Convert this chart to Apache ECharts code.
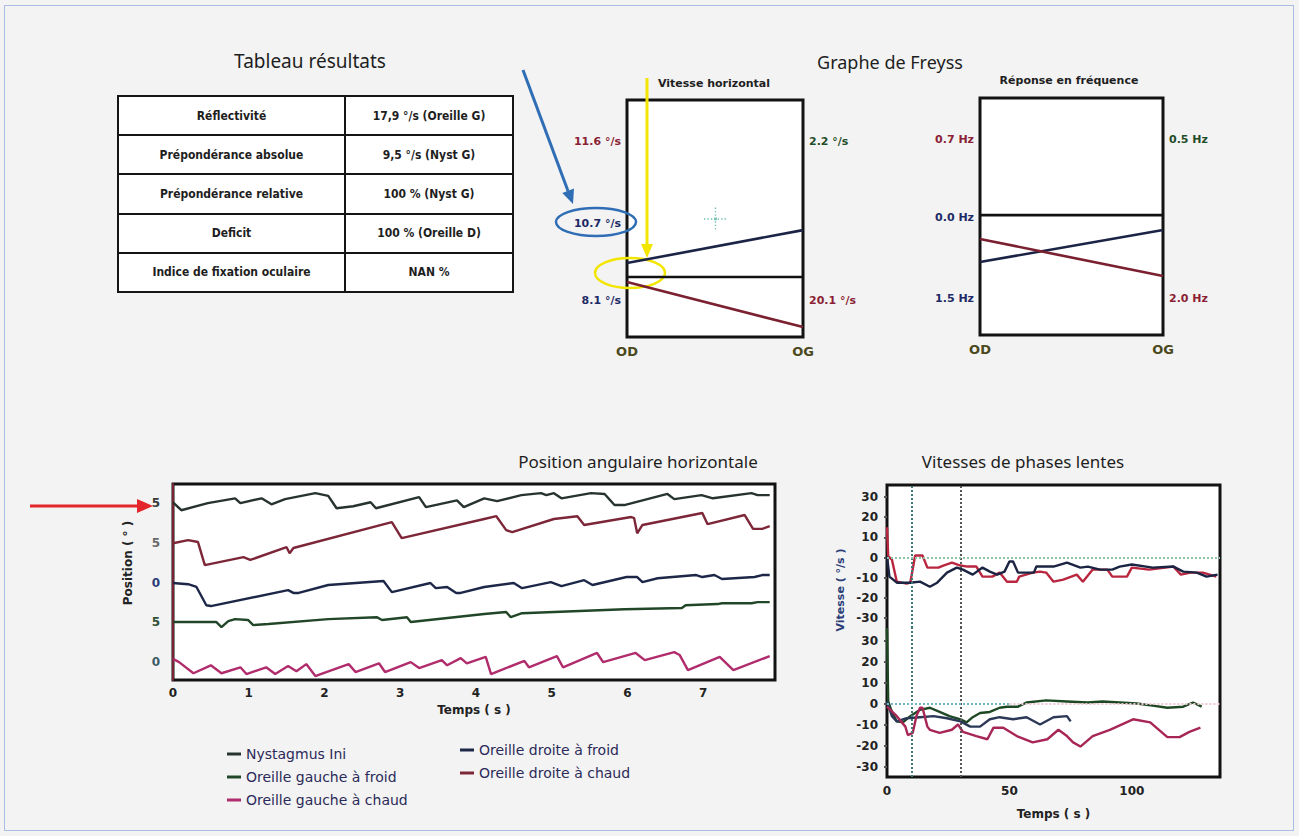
<!DOCTYPE html>
<html>
<head>
<meta charset="utf-8">
<title>Résultats vidéonystagmographie</title>
<script src="https://cdn.jsdelivr.net/npm/echarts@6/dist/echarts.min.js"></script>
<style>
  html, body { margin: 0; padding: 0; background: #f3f3f3; }
  #page { position: relative; width: 1299px; height: 836px; overflow: hidden; }
  #chart { position: absolute; left: 0; top: 0; width: 1299px; height: 836px; }
  #frame { position: absolute; left: 4px; top: 5px; width: 1290px; height: 826px; box-sizing: border-box;
           border: 1px solid #a9bde6; pointer-events: none; }
  #tableTitle { position: absolute; left: 190px; top: 48px; width: 240px; text-align: center;
                font: 19px 'Noto Sans', 'Open Sans', sans-serif; color: #1e1e1e; }
  #results { position: absolute; left: 117px; top: 95px; width: 397px; height: 198px; border-collapse: collapse;
             background: #fff; font: bold 12px 'DejaVu Sans Condensed', 'DejaVu Sans', sans-serif; color: #1e1e1e; }
  #results td { border: 2px solid #151515; text-align: center; padding: 0; }
  #results td:first-child { width: 225px; }
</style>
</head>
<body>
<div id="page">
  <div id="chart"></div>
  <div id="tableTitle">Tableau résultats</div>
  <table id="results"></table>
  <div id="frame"></div>
</div>
<script>
// ---- Tableau résultats ----
const resultLabels = ['Réflectivité', 'Prépondérance absolue', 'Prépondérance relative', 'Deficit', 'Indice de fixation oculaire'];
const resultValues = ['17,9 °/s (Oreille G)', '9,5 °/s (Nyst G)', '100 % (Nyst G)', '100 % (Oreille D)', 'NAN %'];

// ---- Graphe de Freyss : vitesse horizontale (échelle normalisée 0..1) ----
const freyssSides = ['OD', 'OG'];
const speedLevelsLeft = [0.827, 0.481, 0.156];
const speedLabelsLeft = ['11.6 °/s', '10.7 °/s', '8.1 °/s'];
const speedLevelsRight = [0.827, 0.156];
const speedLabelsRight = ['2.2 °/s', '20.1 °/s'];
const speedRef = [0.253, 0.253];
const speedFroid = [0.312, 0.451];
const speedChaud = [0.232, 0.042];
const speedTarget = [0.5, 0.5];

// ---- Graphe de Freyss : réponse en fréquence ----
const freqLevelsLeft = [0.823, 0.494, 0.156];
const freqLabelsLeft = ['0.7 Hz', '0.0 Hz', '1.5 Hz'];
const freqLevelsRight = [0.823, 0.156];
const freqLabelsRight = ['0.5 Hz', '2.0 Hz'];
const freqRef = [0.506, 0.506];
const freqFroid = [0.308, 0.443];
const freqChaud = [0.405, 0.249];

// ---- Position angulaire horizontale : [temps (s), position] ----
const posTicks = [0, 10, 20, 30, 40];
const posTickLabels = ['0', '5', '0', '5', '5'];
const posNystagmus = [[0,40.2],[0.11,38.2],[0.46,40.0],[0.82,41.2],[0.89,40.0],[1.17,41.2],[1.30,39.7],[1.48,41.0],[1.88,42.5],[2.05,41.8],[2.16,38.7],[2.38,39.2],[2.61,40.2],[2.68,38.7],[3.25,41.5],[3.34,39.0],[3.75,40.7],[3.84,39.0],[4.11,41.2],[4.28,40.5],[4.60,42.0],[4.86,42.5],[4.93,42.0],[5.03,42.5],[5.13,41.2],[5.52,42.5],[5.70,42.3],[5.83,39.5],[5.96,39.5],[6.53,42.3],[6.62,41.0],[6.98,42.0],[7.13,41.2],[7.64,42.5],[7.72,42.0],[7.88,42.0]];
const posDroiteChaud = [[0,29.9],[0.20,30.7],[0.33,30.2],[0.42,24.4],[0.93,26.4],[1.02,25.7],[1.50,28.9],[1.54,27.4],[1.59,28.7],[2.89,35.2],[3.02,31.2],[4.11,36.0],[4.27,36.7],[4.40,33.2],[4.48,32.7],[5.03,36.0],[5.34,36.7],[5.43,34.5],[6.05,36.5],[6.09,36.2],[6.13,32.4],[6.20,34.5],[6.99,37.5],[7.06,34.7],[7.55,37.0],[7.66,33.5],[7.78,33.5],[7.88,34.2]];
const posDroiteFroid = [[0,19.9],[0.20,19.6],[0.31,18.9],[0.44,14.3],[0.50,14.1],[1.52,18.1],[1.59,17.4],[1.66,17.4],[2.05,19.4],[2.78,20.4],[2.89,17.6],[3.40,19.9],[3.47,18.6],[3.62,18.9],[3.74,17.4],[3.80,17.4],[4.11,18.9],[4.50,19.9],[4.61,18.6],[4.99,20.1],[5.13,19.1],[5.43,20.6],[5.54,19.4],[5.99,21.4],[6.13,21.4],[6.20,20.1],[6.40,21.1],[6.91,21.9],[6.99,21.4],[7.15,21.9],[7.25,20.9],[7.68,21.4],[7.78,21.9],[7.88,21.9]];
const posGaucheFroid = [[0,10.1],[0.57,10.1],[0.64,8.8],[0.73,10.3],[0.82,10.8],[0.99,10.6],[1.06,9.3],[1.26,9.6],[2.05,10.8],[2.69,11.3],[2.76,10.6],[3.09,11.3],[3.14,10.1],[4.11,12.1],[4.40,12.6],[4.46,11.3],[4.61,12.3],[5.96,13.3],[6.72,13.6],[6.77,14.3],[7.19,14.6],[7.25,14.8],[7.64,14.8],[7.72,15.1],[7.88,15.1]];
const posGaucheChaud = [[0,0.8],[0.08,0],[0.27,-2.8],[0.50,-0.8],[0.64,-2.8],[0.89,-1.3],[0.97,-3.0],[1.23,-1.3],[1.35,-3.0],[1.52,-1.0],[1.63,-2.3],[1.76,-0.5],[1.88,-3.5],[1.95,-3.0],[2.32,-0.5],[2.41,-2.5],[2.72,-0.3],[2.80,-2.5],[3.14,0],[3.25,-1.5],[3.55,0.5],[3.62,-0.8],[3.80,1.0],[3.88,-0.3],[4.13,1.3],[4.20,-3.0],[4.64,0.3],[4.70,-1.3],[5.07,1.5],[5.15,-1.3],[5.60,2.3],[5.68,0],[6.11,2.3],[6.23,0.5],[6.62,2.5],[6.69,1.8],[6.80,-2.0],[7.22,1.3],[7.40,-2.0],[7.88,1.5]];

// ---- Vitesses de phases lentes : [temps (s), vitesse (°/s)] ----
const velTicks = [-30, -20, -10, 0, 10, 20, 30];
const velMarks = [10, 30];
const velDroiteChaud = [[0,15],[0.5,0.5],[2,-1],[4,-12],[8,-13],[9.5,-12.5],[11.5,1],[14.5,1],[16.5,-5],[21,-5],[23,-4],[26.5,-2.5],[30,-4],[33,-4.5],[36.5,-4.5],[39,-9.5],[43,-9.5],[46,-7.5],[49,-12],[53,-12],[54,-9.5],[59.5,-7.5],[62.5,-7],[65,-7.5],[68,-12],[72,-11],[77.5,-8.5],[80,-12],[84,-6],[90,-6],[92,-9.5],[98,-9.5],[100,-5],[107,-6],[117,-4.5],[120,-8.5],[124,-7.5],[129,-7.5],[134.5,-9.5]];
const velDroiteFroid = [[0,0.5],[1,-9.5],[4,-12.5],[9.5,-12.5],[13.5,-12],[17.5,-14.5],[20.5,-12.5],[24.5,-7.5],[28.5,-5],[31,-6],[35,-8.5],[39,-5],[42,-7],[45,-8.5],[48,-7],[50,-2],[51.5,-2],[53.5,-7.5],[57,-7.5],[60,-7.5],[61,-4.5],[68,-4.5],[73.5,-2.5],[79,-5],[82,-4.5],[87,-6],[92,-6],[95,-4.5],[100,-3.5],[108.5,-5],[117,-4.5],[121,-7],[126.5,-7.5],[130.5,-9.5],[135,-8.5]];
const velGaucheFroid = [[0,36],[0.5,1],[2,-4],[4,-8.5],[6.5,-9],[9.5,-6],[13.5,-3],[17.5,-2],[21.5,-4],[25.5,-6],[30,-7.5],[32.5,-9],[35,-6.5],[38,-4.5],[42,-4],[46,-2],[49,-1.5],[53.5,-1.5],[57,0.5],[65,1.5],[73.5,1],[82,0.5],[88,1],[95,0.5],[102,0],[108.5,-1],[114.5,-2],[121,-1.5],[125,0.5],[128.5,-1.5]];
const velNystagmus = [[0,1],[2,-6],[4,-8.5],[8,-7],[13.5,-6.5],[19,-6],[24.5,-7],[30,-8.5],[34,-11],[38,-11],[42,-7.5],[46,-6.5],[51.5,-7.5],[57,-6.5],[62.5,-10],[68,-6.5],[73.5,-6],[75,-8.5]];
const velGaucheChaud = [[0,-1.5],[4,-6],[7.5,-11],[8.5,-15],[10.5,-14],[12,-6],[13.5,-2],[14.5,-2],[16.5,-11],[17.5,-12.5],[21.5,-14],[26.5,-12.5],[29,-10],[31,-13.5],[36.5,-15.5],[41,-17],[43.5,-11.5],[47.5,-11.5],[53,-15.5],[59.5,-18.5],[65.5,-17],[70,-12.5],[73.5,-15.5],[76,-18.5],[79,-20.5],[84,-15.5],[91,-12.5],[100.5,-7.5],[107.5,-9],[114.5,-16],[119.5,-16],[123.5,-13.5],[128,-11.5]];

// ---- table ----
const tbl = document.getElementById('results');
resultLabels.forEach((lab, i) => {
  const tr = document.createElement('tr');
  const a = document.createElement('td'); a.textContent = lab;
  const b = document.createElement('td'); b.textContent = resultValues[i];
  tr.appendChild(a); tr.appendChild(b); tbl.appendChild(tr);
});

// ---- styles ----
const FONT = "'DejaVu Sans', sans-serif";
const TITLE_FONT = "'Noto Sans', 'Open Sans', sans-serif";
const C = {
  nyst: '#27332f', droiteChaud: '#7c2638', droiteFroid: '#1d2748', gaucheFroid: '#224628', gaucheChaud: '#b02c6c',
  velRed: '#b8263f', velNavy: '#1b2442', velGreen: '#1e4824', velSlate: '#2b3957', velPink: '#a82656',
  red: '#8a1f35', blue: '#1d2a66', green: '#1f4d2a', black: '#121212', olive: '#4a481c'
};
const speedLeftColors = [C.red, C.blue, C.blue];
const speedRightColors = [C.green, C.red];
const freqLeftColors = [C.red, C.blue, C.blue];
const freqRightColors = [C.green, C.red];
const posTickColors = ['#3b5a66', '#2f5236', '#2a3d78', '#6a6a6a', '#3a3a3a'];

// dotted cross used as the target symbol
function dottedCross() {
  let p = '';
  for (let i = 0; i <= 20; i += 3) {
    p += 'M' + i + ',9.4h1.2v1.2h-1.2z';
    p += 'M9.4,' + i + 'h1.2v1.2h-1.2z';
  }
  p += 'M8.8,8.8h2.4v2.4h-2.4z';
  return 'path://' + p;
}

function levelIndex(levels, v) {
  return levels.findIndex(l => Math.abs(l - Number(v)) < 1e-6);
}
function levelAxis(gridIndex, position, levels, labels, colors) {
  return {
    gridIndex, type: 'value', min: 0, max: 1, position,
    axisLine: { show: false }, axisTick: { show: false }, splitLine: { show: false },
    axisLabel: {
      customValues: levels, margin: 6, fontSize: 11, fontWeight: 'bold', fontFamily: FONT,
      formatter: v => labels[levelIndex(levels, v)] || '',
      color: v => colors[levelIndex(levels, v)] || '#222'
    }
  };
}
function sideAxis(gridIndex) {
  return {
    gridIndex, type: 'value', min: 0, max: 1,
    axisLine: { show: false }, axisTick: { show: false }, splitLine: { show: false },
    axisLabel: { customValues: [0, 1], margin: 8, fontSize: 13, fontWeight: 'bold', fontFamily: FONT, color: C.olive,
                 formatter: v => freyssSides[Math.round(v)] }
  };
}
function segment(name, ends, color, xi, yi) {
  return { type: 'line', name, xAxisIndex: xi, yAxisIndex: yi, data: [[0, ends[0]], [1, ends[1]]],
           symbol: 'none', silent: true, lineStyle: { color, width: 2.6 }, itemStyle: { color } };
}
function trace(name, data, color, xi, yi, extra) {
  return Object.assign({ type: 'line', name, xAxisIndex: xi, yAxisIndex: yi, data, symbol: 'none', silent: true,
           lineStyle: { color, width: 2.4 }, itemStyle: { color } }, extra || {});
}
const dotted = (color) => ({ type: 'dotted', color, width: 2 });

const option = {
  animation: false,
  backgroundColor: 'transparent',
  grid: [
    { left: 627, top: 100, width: 176, height: 237, show: true, borderColor: C.black, borderWidth: 3, backgroundColor: '#fff' },
    { left: 980, top: 98, width: 183, height: 237, show: true, borderColor: C.black, borderWidth: 3, backgroundColor: '#fff' },
    { left: 173, top: 484, width: 602, height: 196, show: true, borderColor: C.black, borderWidth: 3, backgroundColor: '#fff' },
    { left: 887, top: 485, width: 333, height: 143 },
    { left: 887, top: 628, width: 333, height: 149 },
    { left: 887, top: 485, width: 333, height: 292, show: true, borderColor: C.black, borderWidth: 3, backgroundColor: '#fff' }
  ],
  xAxis: [
    sideAxis(0),
    sideAxis(1),
    { gridIndex: 2, type: 'value', min: 0, max: 7.95, interval: 1,
      axisLine: { show: false }, axisTick: { show: false }, splitLine: { show: false },
      axisLabel: { margin: 7, fontSize: 12, fontWeight: 'bold', fontFamily: FONT, color: '#222', showMaxLabel: false },
      name: 'Temps ( s )', nameLocation: 'middle', nameGap: 24,
      nameTextStyle: { fontSize: 12, fontWeight: 'bold', fontFamily: FONT, color: '#222' } },
    { gridIndex: 3, type: 'value', min: 0, max: 136, show: false },
    { gridIndex: 4, type: 'value', min: 0, max: 136, interval: 50,
      axisLine: { show: false }, axisTick: { show: false }, splitLine: { show: false },
      axisLabel: { margin: 8, fontSize: 12, fontWeight: 'bold', fontFamily: FONT, color: '#222', showMaxLabel: false },
      name: 'Temps ( s )', nameLocation: 'middle', nameGap: 31,
      nameTextStyle: { fontSize: 12, fontWeight: 'bold', fontFamily: FONT, color: '#222' } },
    { gridIndex: 5, type: 'value', show: false }
  ],
  yAxis: [
    levelAxis(0, 'left', speedLevelsLeft, speedLabelsLeft, speedLeftColors),
    levelAxis(0, 'right', speedLevelsRight, speedLabelsRight, speedRightColors),
    levelAxis(1, 'left', freqLevelsLeft, freqLabelsLeft, freqLeftColors),
    levelAxis(1, 'right', freqLevelsRight, freqLabelsRight, freqRightColors),
    { gridIndex: 2, type: 'value', min: -4.5, max: 44.8,
      axisLine: { show: true, lineStyle: { color: '#7a2335', width: 2 } }, axisTick: { show: false }, splitLine: { show: false },
      axisLabel: { customValues: posTicks, margin: 13, fontSize: 12, fontWeight: 'bold', fontFamily: FONT,
                   formatter: v => posTickLabels[posTicks.indexOf(Number(v))],
                   color: v => posTickColors[posTicks.indexOf(Number(v))] } },
    { gridIndex: 3, type: 'value', min: -35, max: 36,
      axisLine: { show: false }, splitLine: { show: false },
      axisTick: { show: true, customValues: velTicks, length: 3, lineStyle: { color: '#555', width: 2 } },
      axisLabel: { customValues: velTicks, margin: 9, fontSize: 12, fontWeight: 'bold', fontFamily: FONT, color: '#222' } },
    { gridIndex: 4, type: 'value', min: -35, max: 36,
      axisLine: { show: false }, splitLine: { show: false },
      axisTick: { show: true, customValues: velTicks, length: 3, lineStyle: { color: '#555', width: 2 } },
      axisLabel: { customValues: velTicks, margin: 9, fontSize: 12, fontWeight: 'bold', fontFamily: FONT, color: '#222' } },
    { gridIndex: 5, type: 'value', show: false }
  ],
  legend: [
    { data: ['Nystagmus Ini', 'Oreille gauche à froid', 'Oreille gauche à chaud'], orient: 'vertical',
      left: 222, top: 742, icon: 'rect', itemWidth: 14, itemHeight: 3, itemGap: 9, selectedMode: false,
      textStyle: { color: '#2b2a58', fontSize: 14, fontFamily: FONT } },
    { data: ['Oreille droite à froid', 'Oreille droite à chaud'], orient: 'vertical',
      left: 455, top: 738, icon: 'rect', itemWidth: 14, itemHeight: 3, itemGap: 9, selectedMode: false,
      textStyle: { color: '#2b2a58', fontSize: 14, fontFamily: FONT } }
  ],
  series: [
    // position angulaire horizontale
    trace('Nystagmus Ini', posNystagmus, C.nyst, 2, 4),
    trace('Oreille droite à chaud', posDroiteChaud, C.droiteChaud, 2, 4),
    trace('Oreille droite à froid', posDroiteFroid, C.droiteFroid, 2, 4),
    trace('Oreille gauche à froid', posGaucheFroid, C.gaucheFroid, 2, 4),
    trace('Oreille gauche à chaud', posGaucheChaud, C.gaucheChaud, 2, 4),

    // graphe de Freyss : vitesse horizontale
    segment('Référence vitesse', speedRef, C.black, 0, 0),
    segment('Vitesse froid', speedFroid, '#1b2445', 0, 0),
    segment('Vitesse chaud', speedChaud, '#7a2030', 0, 0),
    { type: 'scatter', name: 'Cible', xAxisIndex: 0, yAxisIndex: 0, data: [speedTarget], silent: true,
      symbol: dottedCross(), symbolSize: 22, itemStyle: { color: '#4fb3a0', opacity: 0.8 } },

    // graphe de Freyss : réponse en fréquence
    segment('Référence fréquence', freqRef, C.black, 1, 2),
    segment('Fréquence froid', freqFroid, '#1b2445', 1, 2),
    segment('Fréquence chaud', freqChaud, '#7a2030', 1, 2),

    // vitesses de phases lentes : panneau supérieur
    trace('Oreille droite à chaud', velDroiteChaud, C.velRed, 3, 5, {
      markLine: { silent: true, symbol: 'none', label: { show: false },
        data: [
          { xAxis: velMarks[0], lineStyle: dotted('#3e7a78') },
          { xAxis: velMarks[1], lineStyle: dotted('#555') },
          { yAxis: 0, lineStyle: dotted('#8fc3a6') }
        ] } }),
    trace('Oreille droite à froid', velDroiteFroid, C.velNavy, 3, 5),

    // vitesses de phases lentes : panneau inférieur
    trace('Oreille gauche à froid', velGaucheFroid, C.velGreen, 4, 6, {
      markLine: { silent: true, symbol: 'none', label: { show: false },
        data: [
          { xAxis: velMarks[0], lineStyle: dotted('#3e7a78') },
          { xAxis: velMarks[1], lineStyle: dotted('#555') },
          [{ coord: [0, 0], lineStyle: dotted('#6fb8c6') }, { coord: [50, 0] }],
          [{ coord: [50, 0], lineStyle: dotted('#efc6d2') }, { coord: [136, 0] }]
        ] } }),
    trace('Nystagmus Ini', velNystagmus, C.velSlate, 4, 6),
    trace('Oreille gauche à chaud', velGaucheChaud, C.velPink, 4, 6)
  ],
  graphic: [
    { type: 'text', x: 890, y: 62, style: { text: 'Graphe de Freyss', font: '18px ' + TITLE_FONT, fill: '#1e1e1e', textAlign: 'center', textVerticalAlign: 'middle' } },
    { type: 'text', x: 714, y: 83, style: { text: 'Vitesse horizontal', font: 'bold 11px ' + FONT, fill: '#1e1e1e', textAlign: 'center', textVerticalAlign: 'middle' } },
    { type: 'text', x: 1069, y: 80, style: { text: 'Réponse en fréquence', font: 'bold 11px ' + FONT, fill: '#1e1e1e', textAlign: 'center', textVerticalAlign: 'middle' } },
    { type: 'text', x: 638, y: 461, style: { text: 'Position angulaire horizontale', font: '17px ' + TITLE_FONT, fill: '#1e1e1e', textAlign: 'center', textVerticalAlign: 'middle' } },
    { type: 'text', x: 1023, y: 461, style: { text: 'Vitesses de phases lentes', font: '17px ' + TITLE_FONT, fill: '#1e1e1e', textAlign: 'center', textVerticalAlign: 'middle' } },
    { type: 'text', x: 128, y: 563, rotation: Math.PI / 2, style: { text: 'Position ( ° )', font: 'bold 12px ' + FONT, fill: '#222', textAlign: 'center', textVerticalAlign: 'middle' } },
    { type: 'text', x: 840, y: 590, rotation: Math.PI / 2, style: { text: 'Vitesse ( °/s )', font: 'bold 11px ' + FONT, fill: '#2a3d78', textAlign: 'center', textVerticalAlign: 'middle' } },

    // annotations
    { type: 'line', shape: { x1: 30, y1: 506, x2: 140, y2: 506 }, style: { stroke: '#e3262b', lineWidth: 3 } },
    { type: 'polygon', shape: { points: [[137, 499], [153, 506], [137, 513]] }, style: { fill: '#e3262b' } },
    { type: 'line', shape: { x1: 523, y1: 70, x2: 568, y2: 191 }, style: { stroke: '#2f6db4', lineWidth: 3 } },
    { type: 'polygon', shape: { points: [[573, 204], [574, 188.5], [562.3, 193]] }, style: { fill: '#2f6db4' } },
    { type: 'ellipse', shape: { cx: 596, cy: 222, rx: 40, ry: 14 }, style: { fill: 'none', stroke: '#2f6db4', lineWidth: 2.5 } },
    { type: 'line', shape: { x1: 647, y1: 78, x2: 647, y2: 246 }, style: { stroke: '#f2e600', lineWidth: 3 } },
    { type: 'polygon', shape: { points: [[641, 244], [653, 244], [647, 258]] }, style: { fill: '#f2e600' } },
    { type: 'ellipse', shape: { cx: 630, cy: 273, rx: 35, ry: 15 }, style: { fill: 'none', stroke: '#f2e600', lineWidth: 2.5 } }
  ]
};

const chart = echarts.init(document.getElementById('chart'), null, { renderer: 'svg' });
chart.setOption(option);
</script>
</body>
</html>
